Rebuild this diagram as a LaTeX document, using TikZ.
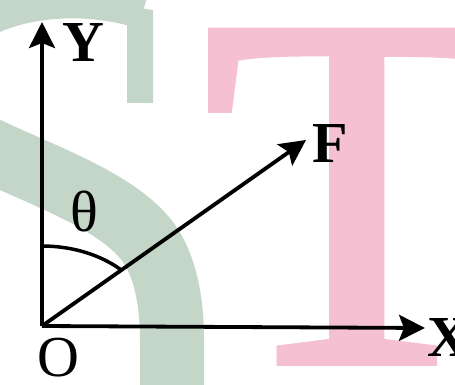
\documentclass[tikz,border=0pt]{standalone}
\usepackage{fontspec}
\setmainfont{Liberation Serif}
\newfontfamily\wmfont[FakeBold=1.5]{Liberation Serif}
\usetikzlibrary{arrows.meta}
\definecolor{wmgreen}{RGB}{196,214,200}
\definecolor{wmpink}{RGB}{246,192,211}
\begin{document}
\begin{tikzpicture}[x=1pt,y=-1pt,
  axis/.style={line width=3.8pt,-{Stealth[length=26pt,width=26pt,inset=5pt]}},
  lbl/.style={font=\fontsize{58}{58}\selectfont\bfseries,inner sep=0pt},
  wm/.style={inner sep=0pt,anchor=base},
  wms/.style={draw=wmgreen,line cap=butt}]
\useasboundingbox (0,0) rectangle (455,385);
\clip (0,0) rectangle (455,385);
\fill[white] (0,0) rectangle (455,385);
% watermark S drawn as shapes
\draw[wms,line width=64pt] (-80,118) -- (0,155) .. controls (60,182) and (120,205) .. (148,242) .. controls (168,270) and (172,310) .. (172,340) -- (172,400);
\draw[wms,line width=30pt] (-40,40) .. controls (0,2) and (80,-6) .. (142,14);
\fill[wmgreen] (127,6) -- (153,10) -- (153,103) -- (127,103) -- cycle;
\node[wm,text=wmpink,font=\wmfont\fontsize{505}{505}\selectfont] (wmt) at (357,362) {T};
\coordinate (O) at (42,326);
\coordinate (Yt) at (42,22);
\coordinate (Xt) at (425,328);
\coordinate (Ft) at (306,140);
\draw[axis] (O) -- (Yt);
\draw[axis] (O) -- (Xt);
\draw[axis] (O) -- (Ft);
\draw[line width=3.5pt] ([yshift=80pt]O) arc[start angle=90,end angle=45,x radius=111pt,y radius=80pt];
\node[lbl] (ly) at (83,43) {Y};
\node[lbl,font=\fontsize{58}{58}\selectfont] (lo) at (58,358) {O};
\node[lbl,font=\fontsize{58}{58}\selectfont] (lth) at (84,212) {θ};
\node[lbl] (lf) at (330,144) {F};
\node[lbl] (lx) at (448,338) {X};
\end{tikzpicture}
\end{document}
